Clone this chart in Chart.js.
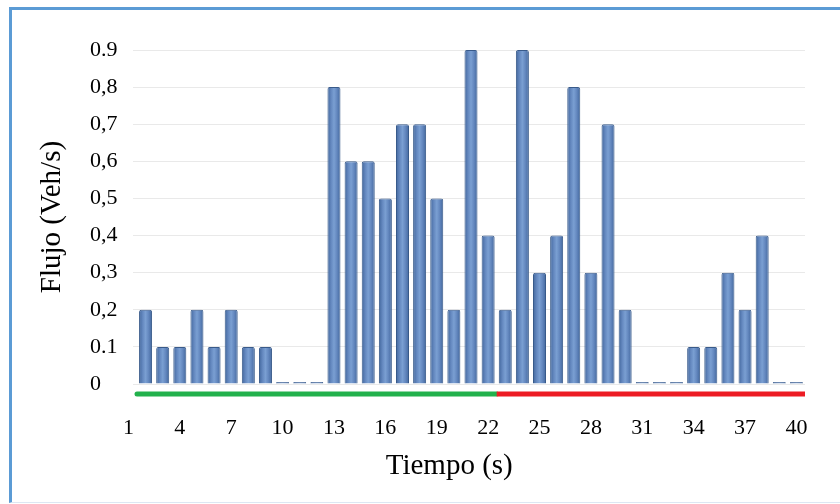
<!DOCTYPE html>
<html><head><meta charset="utf-8">
<script src="https://cdn.jsdelivr.net/npm/chart.js@4"></script>
<style>
html,body{margin:0;padding:0;background:#fff;overflow:hidden;}
#wrap{position:relative;width:840px;height:504px;overflow:hidden;}
#frame{position:absolute;left:9px;top:7px;width:840px;height:492px;border-left:3px solid #5b9bd5;border-top:3px solid #5b9bd5;border-bottom:1px solid #dde7f3;pointer-events:none;}
canvas{position:absolute;left:0;top:0;}
</style></head><body>
<div id="wrap"><canvas id="c" width="840" height="504"></canvas><div id="frame"></div></div>
<script>
// ---- data ----
const seconds = [2,3,4,5,6,7,8,9,10,11,12,13,14,15,16,17,18,19,20,21,22,23,24,25,26,27,28,29,30,31,32,33,34,35,36,37,38,39,40];
const flow = [0.2,0.1,0.1,0.2,0.1,0.2,0.1,0.1,0,0,0,0.8,0.6,0.6,0.5,0.7,0.7,0.5,0.2,0.9,0.4,0.2,0.9,0.3,0.4,0.8,0.3,0.7,0.2,0,0,0,0.1,0.1,0.3,0.2,0.4,0,0];
const yTickLabels = ["0","0.1","0,2","0,3","0,4","0,5","0,6","0,7","0,8","0.9"];
const xTickLabels = [1,4,7,10,13,16,19,22,25,28,31,34,37,40];
const phaseBounds = [1.5, 22.5, 40.5]; // first phase (green), second phase (red)

// ---- styling / drawing ----
const SERIF = "'Liberation Serif', 'Times New Roman', serif";
function barFill(ctx) {
  const chart = ctx.chart; const xs = chart.scales && chart.scales.x;
  if (!xs || !ctx.parsed || ctx.type !== 'data') return '#5b80b8';
  const px = xs.getPixelForValue(ctx.parsed.x);
  if (!isFinite(px)) return '#5b80b8';
  const g = chart.ctx.createLinearGradient(px - 7, 0, px + 7, 0);
  g.addColorStop(0, '#3d6298');
  g.addColorStop(0.3, '#6589c0');
  g.addColorStop(0.5, '#7a9fd2');
  g.addColorStop(0.7, '#6589c0');
  g.addColorStop(1, '#3d6298');
  return g;
}
const phaseBand = {
  id: 'phaseBand',
  afterDatasetsDraw(chart) {
    const xs = chart.scales.x, ys = chart.scales.y, c = chart.ctx;
    const y = ys.getPixelForValue(0) + 10;
    const colors = ['#22b14c', '#ed1c24'];
    c.save();
    c.lineWidth = 5;
    for (let i = 0; i < phaseBounds.length - 1; i++) {
      c.beginPath();
      c.lineCap = i === 0 ? 'round' : 'butt';
      c.strokeStyle = colors[i];
      c.moveTo(xs.getPixelForValue(phaseBounds[i]), y);
      c.lineTo(xs.getPixelForValue(phaseBounds[i + 1]), y);
      c.stroke();
    }
    c.restore();
  }
};

new Chart(document.getElementById('c'), {
  type: 'bar',
  data: {
    datasets: [{
      data: seconds.map((s, i) => ({x: s, y: flow[i]})),
      backgroundColor: barFill,
      borderColor: '#385a8a',
      borderWidth: 1,
      borderRadius: 2,
      borderSkipped: 'start',
      minBarLength: 2,
      barPercentage: 0.76,
      categoryPercentage: 1
    }]
  },
  options: {
    responsive: false,
    animation: false,
    devicePixelRatio: 1,
    layout: {padding: {left: 90, right: 35, top: 50, bottom: 0}},
    plugins: {legend: {display: false}, tooltip: {enabled: false}},
    scales: {
      x: {
        type: 'linear',
        offset: false,
        min: 1.5, max: 40.5,
        afterBuildTicks: (s) => { s.ticks = xTickLabels.map(v => ({value: v})); },
        afterFit: (s) => { s.height = 120; },
        grid: {display: false, drawTicks: false},
        border: {display: false},
        ticks: {
          autoSkip: false, maxRotation: 0, padding: 31,
          color: '#000', font: {family: SERIF, size: 22},
          callback: (v) => String(v)
        },
        title: {
          display: true, text: 'Tiempo (s)      ', color: '#000',
          font: {family: SERIF, size: 29}, padding: {top: 0, bottom: 20}
        }
      },
      y: {
        min: 0, max: 0.9,
        afterFit: (s) => { s.width = 47; },
        grid: {color: '#e9e9e9', lineWidth: 1, drawTicks: true, tickLength: 4, tickColor: '#e9e9e9'},
        border: {display: false},
        ticks: {
          stepSize: 0.1, padding: 15, crossAlign: 'far',
          color: '#000', font: {family: SERIF, size: 22},
          callback: (v, i) => yTickLabels[i]
        },
        title: {
          display: true, text: 'Flujo (Veh/s)', color: '#000',
          font: {family: SERIF, size: 29}, padding: {top: -55, bottom: 0}
        }
      }
    }
  },
  plugins: [phaseBand]
});
</script>
</body></html>
